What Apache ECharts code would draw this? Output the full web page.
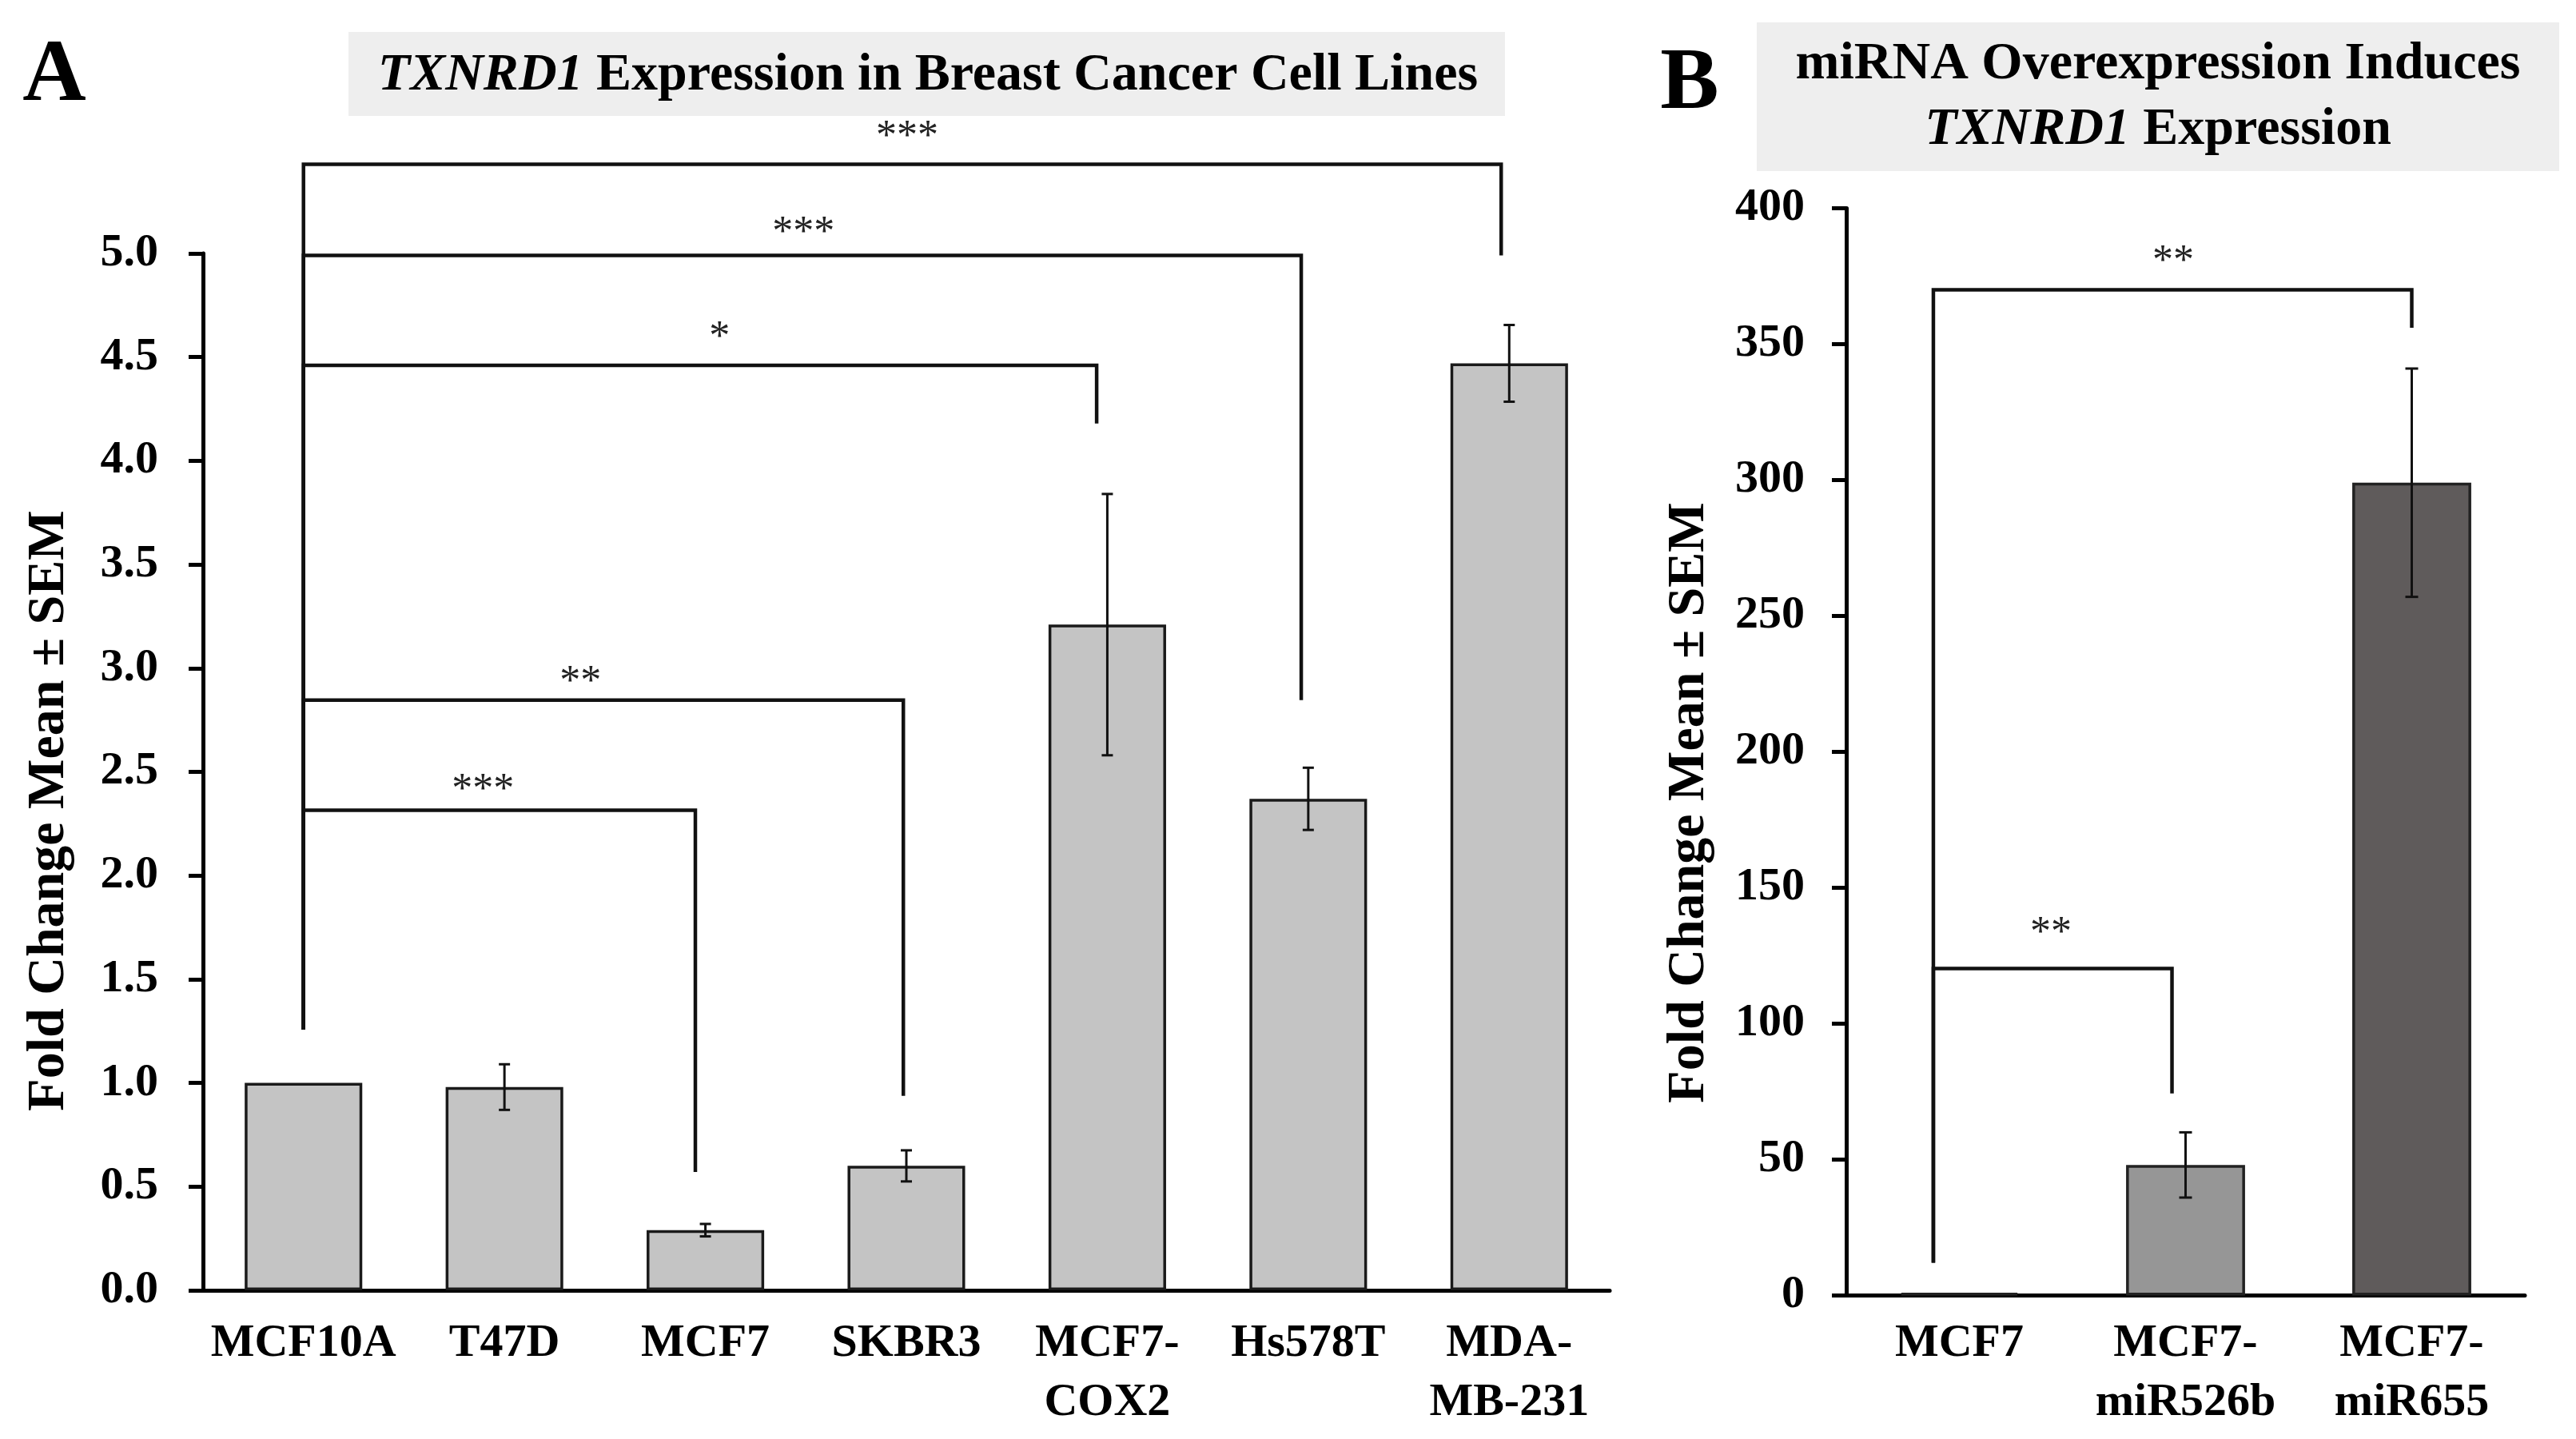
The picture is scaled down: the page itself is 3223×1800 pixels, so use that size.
<!DOCTYPE html>
<html>
<head>
<meta charset="utf-8">
<script src="https://cdn.jsdelivr.net/npm/echarts@6/dist/echarts.min.js"></script>
<style>
  html, body { margin: 0; background: #fff; }
  #chart { width: 3223px; height: 1800px; }
</style>
</head>
<body>
<div id="chart"></div>
<script>
// panel A data
const cellLines = ['MCF10A', 'T47D', 'MCF7', 'SKBR3', 'MCF7-\nCOX2', 'Hs578T', 'MDA-\nMB-231'];
const foldA = [1.0, 0.98, 0.29, 0.60, 3.21, 2.37, 4.47];
const semA = [0, 0.11, 0.03, 0.075, 0.63, 0.15, 0.185];
const yTicksA = [0, 0.5, 1.0, 1.5, 2.0, 2.5, 3.0, 3.5, 4.0, 4.5, 5.0];

// panel A significance brackets (category index, value)
const bracketFromA = [0, 0, 0, 0, 0];
const bracketToA = [1.95, 2.985, 3.947, 4.965, 5.96];
const bracketLevelA = [2.315, 2.846, 4.46, 4.99, 5.43];
const bracketFootA = [1.257, 1.257, 1.257, 1.257, 1.257];
const bracketDropA = [0.571, 0.938, 4.18, 2.846, 4.99];
const starsA = ['***', '**', '*', '***', '***'];
const starXA = [0.893, 1.378, 2.07, 2.488, 3.004];
const starYA = [2.41, 2.93, 4.59, 5.094, 5.559];

// panel B data
const groupsB = ['MCF7', 'MCF7-\nmiR526b', 'MCF7-\nmiR655'];
const foldB = [1, 48, 299];
const semB = [0, 12, 42];
const yTicksB = [0, 50, 100, 150, 200, 250, 300, 350, 400];

const bracketFromB = [-0.115, -0.115];
const bracketToB = [0.94, 2.0];
const bracketLevelB = [120.3, 370];
const bracketFootB = [12, 12];
const bracketDropB = [74.3, 356];
const starsB = ['**', '**'];
const starXB = [0.405, 0.945];
const starYB = [133, 380];

const barColorsB = ['#9a9a9a', '#969696', '#5f5b5b'];

const FONT = '"Liberation Serif", "Times New Roman", serif';

function catX(api, p) {
  const r = Math.round(p);
  return api.coord([r, 0])[0] + (p - r) * api.size([1, 0])[0];
}

function bracketSeries(idx, from, to, level, foot, drop) {
  return {
    type: 'custom',
    xAxisIndex: idx,
    yAxisIndex: idx,
    silent: true,
    clip: false,
    z: 5,
    encode: { x: 0, y: 2 },
    data: to.map((t, i) => [from[i], t, level[i], foot[i], drop[i]]),
    renderItem(params, api) {
      const xl = catX(api, api.value(0));
      const xr = catX(api, api.value(1));
      const yl = api.coord([0, api.value(2)])[1];
      const yf = api.coord([0, api.value(3)])[1];
      const yd = api.coord([0, api.value(4)])[1];
      return {
        type: 'polyline',
        shape: { points: [[xl, yf], [xl, yl], [xr, yl], [xr, yd]] },
        style: { stroke: '#111', lineWidth: 4.5, fill: null, lineJoin: 'miter' },
      };
    },
  };
}

function starSeries(idx, labels, xs, ys) {
  return {
    type: 'custom',
    xAxisIndex: idx,
    yAxisIndex: idx,
    silent: true,
    clip: false,
    z: 6,
    encode: { x: 0, y: 1 },
    data: xs.map((x, i) => [x, ys[i]]),
    renderItem(params, api) {
      return {
        type: 'text',
        x: catX(api, api.value(0)),
        y: api.coord([0, api.value(1)])[1],
        style: {
          text: labels[params.dataIndex],
          font: '52px ' + FONT,
          fill: '#222',
          align: 'center',
          verticalAlign: 'middle',
        },
      };
    },
  };
}

function errorSeries(idx, means, sems, cap) {
  return {
    type: 'custom',
    xAxisIndex: idx,
    yAxisIndex: idx,
    silent: true,
    z: 4,
    encode: { x: 0, y: 2 },
    data: means.map((v, i) => [i, v - sems[i], v + sems[i]]),
    renderItem(params, api) {
      if (api.value(2) - api.value(1) <= 0) return null;
      const x = api.coord([api.value(0), 0])[0];
      const lo = api.coord([0, api.value(1)])[1];
      const hi = api.coord([0, api.value(2)])[1];
      const st = { stroke: '#111', lineWidth: 3 };
      return {
        type: 'group',
        children: [
          { type: 'line', shape: { x1: x, y1: lo, x2: x, y2: hi }, style: st },
          { type: 'line', shape: { x1: x - cap, y1: lo, x2: x + cap, y2: lo }, style: st },
          { type: 'line', shape: { x1: x - cap, y1: hi, x2: x + cap, y2: hi }, style: st },
        ],
      };
    },
  };
}

const axisFont = { fontFamily: FONT, fontWeight: 'bold', fontSize: 58, color: '#000' };
const blackLine = { color: '#000', width: 5 };

const chart = echarts.init(document.getElementById('chart'), null, { renderer: 'canvas' });

chart.setOption({
  backgroundColor: '#fff',
  animation: false,
  grid: [
    { left: 254, top: 317, width: 1760, height: 1297 },
    { left: 2310, top: 260.4, width: 849, height: 1360 },
  ],
  xAxis: [{
    type: 'category',
    gridIndex: 0,
    data: cellLines,
    axisLine: { lineStyle: blackLine },
    axisTick: { show: false },
    axisLabel: Object.assign({ interval: 0, margin: 30, lineHeight: 74 }, axisFont),
  }, {
    type: 'category',
    gridIndex: 1,
    data: groupsB,
    axisLine: { lineStyle: blackLine },
    axisTick: { show: false },
    axisLabel: Object.assign({ interval: 0, margin: 24, lineHeight: 74 }, axisFont),
  }],
  yAxis: [{
    type: 'value',
    gridIndex: 0,
    min: yTicksA[0],
    max: yTicksA[yTicksA.length - 1],
    interval: yTicksA[1] - yTicksA[0],
    axisLine: { show: true, lineStyle: blackLine },
    axisTick: { show: true, length: 18, lineStyle: blackLine },
    splitLine: { show: false },
    axisLabel: Object.assign({ margin: 56, formatter: (v) => v.toFixed(1) }, axisFont),
  }, {
    type: 'value',
    gridIndex: 1,
    min: yTicksB[0],
    max: yTicksB[yTicksB.length - 1],
    interval: yTicksB[1] - yTicksB[0],
    axisLine: { show: true, lineStyle: blackLine },
    axisTick: { show: true, length: 18, lineStyle: blackLine },
    splitLine: { show: false },
    axisLabel: Object.assign({ margin: 52 }, axisFont),
  }],
  series: [
    {
      type: 'bar',
      xAxisIndex: 0,
      yAxisIndex: 0,
      barWidth: '58.5%',
      data: foldA,
      itemStyle: { color: '#c4c4c4', borderColor: '#1a1a1a', borderWidth: 3.5 },
      z: 3,
    },
    {
      type: 'bar',
      xAxisIndex: 1,
      yAxisIndex: 1,
      barWidth: '52.6%',
      data: foldB.map((v, i) => ({ value: v, itemStyle: { color: barColorsB[i] } })),
      itemStyle: { borderColor: '#222', borderWidth: 3.5 },
      z: 3,
    },
    errorSeries(0, foldA, semA, 7),
    errorSeries(1, foldB, semB, 8),
    bracketSeries(0, bracketFromA, bracketToA, bracketLevelA, bracketFootA, bracketDropA),
    bracketSeries(1, bracketFromB, bracketToB, bracketLevelB, bracketFootB, bracketDropB),
    starSeries(0, starsA, starXA, starYA),
    starSeries(1, starsB, starXB, starYB),
  ],
  graphic: [
    { type: 'rect', shape: { x: 436, y: 40, width: 1447, height: 105 }, style: { fill: '#eeeeee' }, z: 0 },
    { type: 'rect', shape: { x: 2198, y: 28, width: 1004, height: 186 }, style: { fill: '#eeeeee' }, z: 0 },
    {
      type: 'text', x: 1161, y: 95, z: 2,
      style: {
        text: '{i|TXNRD1}{n| Expression in Breast Cancer Cell Lines}',
        align: 'center', verticalAlign: 'middle',
        rich: {
          i: { fontFamily: FONT, fontWeight: 'bold', fontStyle: 'italic', fontSize: 66, fill: '#000' },
          n: { fontFamily: FONT, fontWeight: 'bold', fontSize: 66, fill: '#000' },
        },
      },
    },
    {
      type: 'text', x: 2700, y: 81, z: 2,
      style: {
        text: 'miRNA Overexpression Induces',
        font: 'bold 66px ' + FONT, fill: '#000',
        align: 'center', verticalAlign: 'middle',
      },
    },
    {
      type: 'text', x: 2700, y: 163, z: 2,
      style: {
        text: '{i|TXNRD1}{n| Expression}',
        align: 'center', verticalAlign: 'middle',
        rich: {
          i: { fontFamily: FONT, fontWeight: 'bold', fontStyle: 'italic', fontSize: 66, fill: '#000' },
          n: { fontFamily: FONT, fontWeight: 'bold', fontSize: 66, fill: '#000' },
        },
      },
    },
    {
      type: 'text', x: 68, y: 97, z: 2,
      style: { text: 'A', font: 'bold 110px ' + FONT, fill: '#000', align: 'center', verticalAlign: 'middle' },
    },
    {
      type: 'text', x: 2114, y: 107, z: 2,
      style: { text: 'B', font: 'bold 110px ' + FONT, fill: '#000', align: 'center', verticalAlign: 'middle' },
    },
    {
      type: 'text', x: 62, y: 1014, rotation: Math.PI / 2, z: 2,
      style: { text: 'Fold Change Mean ± SEM', font: 'bold 66px ' + FONT, fill: '#000', align: 'center', verticalAlign: 'middle' },
    },
    {
      type: 'text', x: 2114, y: 1004, rotation: Math.PI / 2, z: 2,
      style: { text: 'Fold Change Mean ± SEM', font: 'bold 66px ' + FONT, fill: '#000', align: 'center', verticalAlign: 'middle' },
    },
  ],
});
</script>
</body>
</html>
